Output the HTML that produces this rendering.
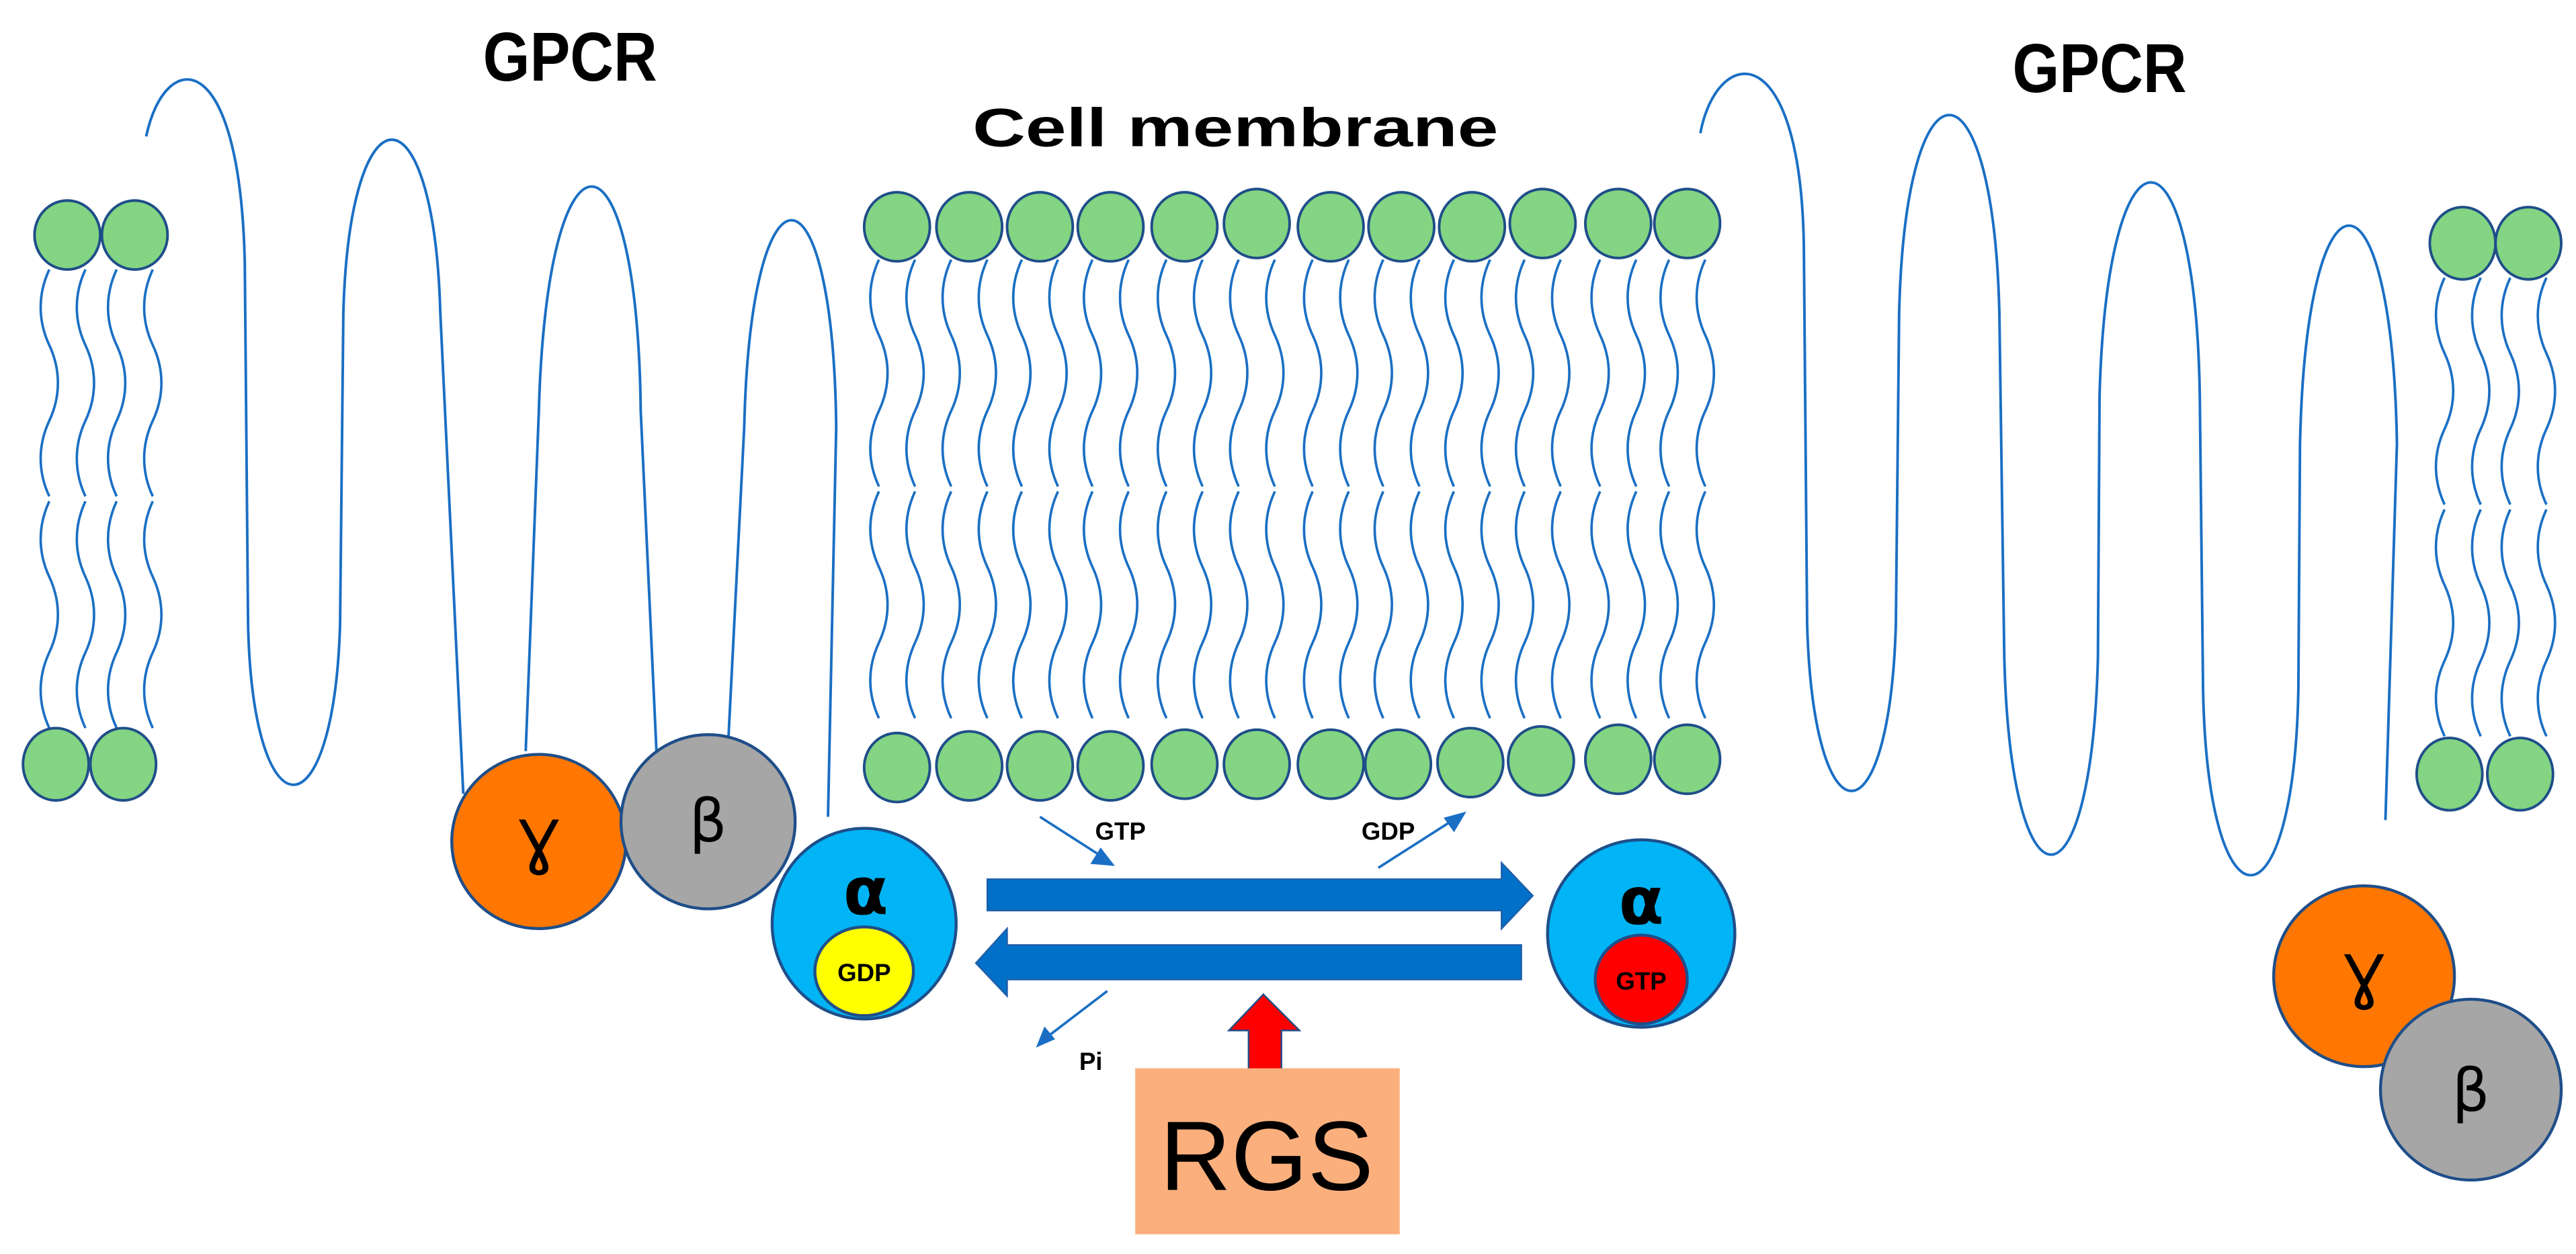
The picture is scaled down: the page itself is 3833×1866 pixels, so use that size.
<!DOCTYPE html>
<html><head><meta charset="utf-8"><style>html,body{margin:0;padding:0;background:#fff}svg{display:block}</style></head>
<body>
<svg width="3833" height="1866" viewBox="0 0 1568 763" preserveAspectRatio="none" xmlns="http://www.w3.org/2000/svg" font-family="Liberation Sans, sans-serif">
<defs>
<path id="w" d="M0,0 c-7,15 -7,31 0,46 c7,15 7,31 0,46 c-7,15 -7,31 0,46" fill="none" stroke="#1a6fc4" stroke-width="1.5"/>
<g id="tp"><use href="#w" x="-11" y="0"/><use href="#w" x="11" y="0"/></g>
<g id="pair"><use href="#tp" x="0" y="0"/><use href="#tp" x="0" y="141"/></g>
</defs>
<g fill="none" stroke="#1a6fc4" stroke-width="1.6">
<path d="M89,83 C100,30 146,25 149,160 L151,380 C154,510 203,510 207,380 L209,190 C213,50 264,50 268,190 L282,483"/>
<path d="M320,457 L328,250 C333,68 388,68 390,250 L400,466"/>
<path d="M443,457 L453,260 C457,92 507,92 509,260 L504,497"/>
<path d="M1035,81 C1045,28 1096,20 1098,150 L1100,380 C1104,515 1150,515 1154,380 L1156,190 C1160,30 1213,30 1217,190 L1220,400 C1224,560 1273,560 1277,400 L1278,240 C1283,68 1336,68 1339,240 L1341,420 C1344,570 1396,570 1399,420 L1400,270 C1404,93 1456,93 1459,270 L1452,499"/>
</g>
<g>
<use href="#pair" x="41" y="164"/><use href="#pair" x="82" y="164"/>
<use href="#pair" x="1499" y="169"/><use href="#pair" x="1539" y="169"/>
<use href="#pair" x="546" y="158"/><use href="#pair" x="590" y="158"/><use href="#pair" x="633" y="158"/><use href="#pair" x="676" y="158"/><use href="#pair" x="721" y="158"/><use href="#pair" x="765" y="158"/><use href="#pair" x="810" y="158"/><use href="#pair" x="853" y="158"/><use href="#pair" x="896" y="158"/><use href="#pair" x="939" y="158"/><use href="#pair" x="985" y="158"/><use href="#pair" x="1027" y="158"/>
</g>
<g fill="#83d483" stroke="#1f4e89" stroke-width="1.6">
<ellipse cx="41" cy="143" rx="20" ry="21"/><ellipse cx="82" cy="143" rx="20" ry="21"/>
<ellipse cx="34" cy="465" rx="20" ry="22"/><ellipse cx="75" cy="465" rx="20" ry="22"/>
<ellipse cx="1499" cy="148" rx="20" ry="22"/><ellipse cx="1539" cy="148" rx="20" ry="22"/>
<ellipse cx="1491" cy="471" rx="20" ry="22"/><ellipse cx="1534" cy="471" rx="20" ry="22"/>
<ellipse cx="546" cy="138" rx="20" ry="21"/><ellipse cx="590" cy="138" rx="20" ry="21"/><ellipse cx="633" cy="138" rx="20" ry="21"/><ellipse cx="676" cy="138" rx="20" ry="21"/><ellipse cx="721" cy="138" rx="20" ry="21"/><ellipse cx="765" cy="136" rx="20" ry="21"/><ellipse cx="810" cy="138" rx="20" ry="21"/><ellipse cx="853" cy="138" rx="20" ry="21"/><ellipse cx="896" cy="138" rx="20" ry="21"/><ellipse cx="939" cy="136" rx="20" ry="21"/><ellipse cx="985" cy="136" rx="20" ry="21"/><ellipse cx="1027" cy="136" rx="20" ry="21"/>
<ellipse cx="546" cy="467" rx="20" ry="21"/><ellipse cx="590" cy="466" rx="20" ry="21"/><ellipse cx="633" cy="466" rx="20" ry="21"/><ellipse cx="676" cy="466" rx="20" ry="21"/><ellipse cx="721" cy="465" rx="20" ry="21"/><ellipse cx="765" cy="465" rx="20" ry="21"/><ellipse cx="810" cy="465" rx="20" ry="21"/><ellipse cx="851" cy="465" rx="20" ry="21"/><ellipse cx="895" cy="464" rx="20" ry="21"/><ellipse cx="938" cy="463" rx="20" ry="21"/><ellipse cx="985" cy="462" rx="20" ry="21"/><ellipse cx="1027" cy="462" rx="20" ry="21"/>
</g>
<g stroke="#1f4e89" stroke-width="1.8">
<circle cx="328" cy="512" r="53" fill="#ff7700"/>
<circle cx="431" cy="500" r="53" fill="#a6a6a6"/>
<ellipse cx="526" cy="562" rx="56" ry="58" fill="#00b4f5"/>
<ellipse cx="526" cy="591" rx="30" ry="27" fill="#ffff00"/>
<ellipse cx="999" cy="568" rx="57" ry="57" fill="#00b4f5"/>
<ellipse cx="999" cy="596" rx="28" ry="27" fill="#ff0000"/>
<circle cx="1439" cy="594" r="55" fill="#ff7700"/>
<circle cx="1504" cy="663" r="55" fill="#a6a6a6"/>
</g>
<g fill="#0070c8" stroke="#1f5fa8" stroke-width="1">
<polygon points="601,535 914,535 914,525 933,545 914,565 914,554 601,554"/>
<polygon points="926,575 613,575 613,565 594,586 613,606 613,596 926,596"/>
</g>
<polygon points="769,605 791,627 780,627 780,653 760,653 760,627 748,627" fill="#ff0000" stroke="#1f4e89" stroke-width="1"/>
<rect x="691" y="650" width="161" height="101" fill="#fbaf7d"/>
<g stroke="#1a6fc4" stroke-width="1.5" fill="#1a6fc4">
<line x1="633" y1="497" x2="672" y2="522"/><polygon points="677,526 665,525 670,517"/>
<line x1="839" y1="528" x2="886" y2="498"/><polygon points="891,495 885,505 880,498"/>
<line x1="674" y1="603" x2="636" y2="632"/><polygon points="632,636 636,626 641,632"/>
</g>
<g font-weight="bold" fill="#000">
<text x="294" y="49" font-size="42" textLength="106" lengthAdjust="spacingAndGlyphs">GPCR</text>
<text x="1225" y="56" font-size="42" textLength="106" lengthAdjust="spacingAndGlyphs">GPCR</text>
<text x="592" y="89" font-size="33" textLength="320" lengthAdjust="spacingAndGlyphs">Cell membrane</text>
<text x="682" y="511" font-size="15" text-anchor="middle">GTP</text>
<text x="845" y="511" font-size="15" text-anchor="middle">GDP</text>
<text x="664" y="651" font-size="15" text-anchor="middle">Pi</text>
<text x="526" y="597" font-size="15" text-anchor="middle">GDP</text>
<text x="999" y="602" font-size="15" text-anchor="middle">GTP</text>
</g>
<g fill="#000" text-anchor="middle" font-family="DejaVu Sans, sans-serif" font-weight="bold">
<text x="527" y="556" font-size="40">α</text>
<text x="999" y="562" font-size="40">α</text>
<text x="328" y="525" font-size="36" font-weight="normal">Ɣ</text>
<text x="431" y="512" font-size="36" font-weight="normal">β</text>
<text x="1439" y="607" font-size="36" font-weight="normal">Ɣ</text>
<text x="1504" y="676" font-size="36" font-weight="normal">β</text>
</g>
<text x="771" y="724" font-size="60" text-anchor="middle" fill="#000">RGS</text>
</svg>
</body></html>
